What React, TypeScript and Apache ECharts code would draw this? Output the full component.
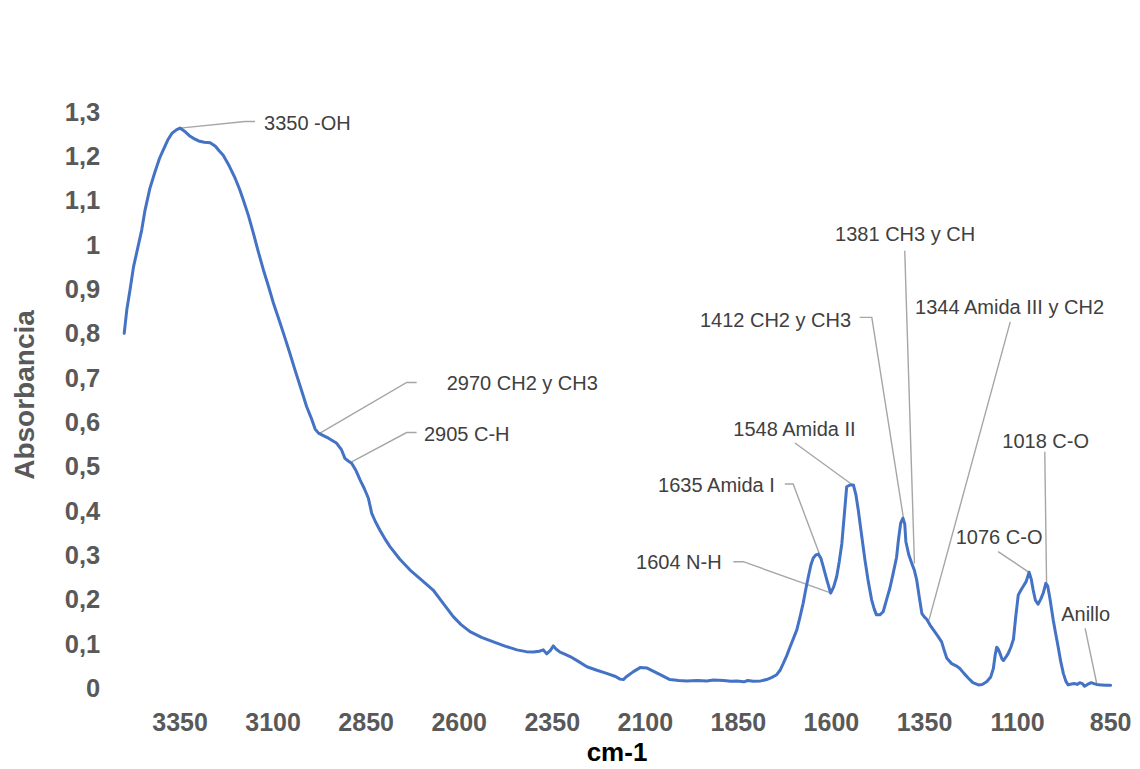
import React, { useEffect, useRef } from "react";
import * as echarts from "echarts";

// ---- Spectrum data (wavenumber cm-1, absorbance) ----
const wavenumbers: number[] = [
  3500, 3493, 3484, 3475, 3463, 3453, 3444, 3431, 3417, 3405,
  3395, 3383, 3372, 3360, 3350, 3338, 3325, 3314, 3300, 3285,
  3269, 3255, 3245, 3234, 3218, 3202, 3190, 3180, 3166, 3153,
  3140, 3126, 3112, 3099, 3085, 3072, 3056, 3041, 3025, 3010,
  2998, 2987, 2978, 2969, 2950, 2929, 2916, 2907, 2898, 2889,
  2877, 2866, 2855, 2844, 2835, 2825, 2813, 2800, 2786, 2760,
  2732, 2700, 2670, 2643, 2616, 2595, 2571, 2540, 2508, 2475,
  2445, 2420, 2401, 2385, 2374, 2365, 2355, 2347, 2340, 2329,
  2315, 2302, 2280, 2257, 2230, 2204, 2180, 2168, 2159, 2150,
  2132, 2114, 2095, 2079, 2060, 2034, 2010, 1989, 1960, 1935,
  1917, 1890, 1870, 1854, 1835, 1825, 1810, 1790, 1774, 1760,
  1747, 1738, 1729, 1720, 1711, 1702, 1693, 1685, 1676, 1669,
  1662, 1655, 1649, 1642, 1635, 1628, 1622, 1612, 1602, 1594,
  1586, 1579, 1572, 1565, 1559, 1550, 1541, 1534, 1528, 1519,
  1510, 1501, 1492, 1485, 1479, 1470, 1461, 1452, 1443, 1434,
  1425, 1420, 1414, 1408, 1403, 1400, 1392, 1384, 1377, 1371,
  1364, 1357, 1350, 1344, 1335, 1326, 1315, 1304, 1297, 1290,
  1277, 1265, 1255, 1244, 1232, 1220, 1205, 1195, 1183, 1172,
  1165, 1160, 1156, 1152, 1147, 1142, 1138, 1131, 1125, 1118,
  1111, 1105, 1098, 1090, 1085, 1077, 1069, 1063, 1058, 1052,
  1045, 1038, 1031, 1024, 1019, 1013, 1004, 997, 991, 984,
  977, 970, 964, 955, 946, 940, 933, 926, 920, 912,
  902, 895, 888, 875, 862, 850,
];

const absorbance: number[] = [
  0.800, 0.853, 0.900, 0.950, 0.995, 1.033, 1.078, 1.127, 1.165, 1.195,
  1.214, 1.236, 1.251, 1.259, 1.263, 1.256, 1.246, 1.240, 1.234, 1.231,
  1.230, 1.222, 1.212, 1.202, 1.178, 1.150, 1.125, 1.101, 1.065, 1.026,
  0.985, 0.943, 0.905, 0.868, 0.833, 0.800, 0.758, 0.717, 0.675, 0.635,
  0.610, 0.584, 0.575, 0.571, 0.563, 0.552, 0.537, 0.518, 0.512, 0.507,
  0.490, 0.469, 0.450, 0.428, 0.394, 0.375, 0.356, 0.337, 0.319, 0.291,
  0.266, 0.243, 0.221, 0.191, 0.161, 0.143, 0.127, 0.114, 0.104, 0.094,
  0.086, 0.082, 0.081, 0.083, 0.086, 0.077, 0.085, 0.095, 0.088, 0.081,
  0.076, 0.071, 0.060, 0.048, 0.040, 0.033, 0.026, 0.020, 0.019, 0.026,
  0.037, 0.046, 0.045, 0.038, 0.030, 0.019, 0.017, 0.016, 0.017, 0.016,
  0.018, 0.017, 0.015, 0.016, 0.014, 0.017, 0.015, 0.016, 0.019, 0.024,
  0.030, 0.040, 0.056, 0.073, 0.093, 0.112, 0.131, 0.158, 0.191, 0.222,
  0.251, 0.278, 0.293, 0.300, 0.302, 0.292, 0.274, 0.243, 0.214, 0.228,
  0.251, 0.285, 0.326, 0.395, 0.454, 0.458, 0.458, 0.435, 0.402, 0.345,
  0.289, 0.240, 0.199, 0.178, 0.165, 0.165, 0.172, 0.199, 0.225, 0.259,
  0.295, 0.334, 0.372, 0.383, 0.370, 0.330, 0.300, 0.281, 0.265, 0.244,
  0.205, 0.168, 0.160, 0.155, 0.142, 0.131, 0.118, 0.104, 0.085, 0.067,
  0.055, 0.050, 0.044, 0.033, 0.022, 0.012, 0.007, 0.008, 0.014, 0.025,
  0.044, 0.075, 0.092, 0.088, 0.078, 0.066, 0.062, 0.070, 0.078, 0.092,
  0.110, 0.160, 0.210, 0.222, 0.229, 0.240, 0.261, 0.245, 0.221, 0.198,
  0.189, 0.200, 0.214, 0.236, 0.230, 0.202, 0.153, 0.120, 0.093, 0.060,
  0.033, 0.015, 0.007, 0.009, 0.010, 0.008, 0.012, 0.010, 0.004, 0.008,
  0.012, 0.010, 0.008, 0.007, 0.006, 0.006,
];

// ---- Axis tick labels ----
const xTickLabels: number[] = [3350, 3100, 2850, 2600, 2350, 2100, 1850, 1600, 1350, 1100, 850];
const xTitle = "cm-1";
const yTitle = "Absorbancia";

// ---- Band annotations ----
const peakLabels: string[] = [
  "3350 -OH",
  "2970 CH2 y CH3",
  "2905 C-H",
  "1635 Amida I",
  "1604 N-H",
  "1548 Amida II",
  "1412 CH2 y CH3",
  "1381 CH3 y CH",
  "1344 Amida III y CH2",
  "1076 C-O",
  "1018 C-O",
  "Anillo",
];
const peakWavenumbers: number[] = [3350, 2974, 2889, 1633, 1604, 1543, 1405, 1377, 1338, 1069, 1022, 887];
const peakAbsorbance: number[] = [1.263, 0.575, 0.51, 0.304, 0.215, 0.458, 0.375, 0.281, 0.153, 0.261, 0.236, 0.009];

// Label placement (pixel offsets from the anchor point), kept separate from data
type Placement = { dx: number; dy: number; align: "left" | "right" | "center"; path: number[][] };
const placements: Placement[] = [
  { dx: 84, dy: -5, align: "left", path: [[65, -6.6], [75, -6.6]] },
  { dx: 126.7, dy: -50, align: "left", path: [[86.7, -50.6], [96.7, -50.6]] },
  { dx: 72.3, dy: -28.4, align: "left", path: [[55, -29.4], [65, -29.4]] },
  { dx: -44.3, dy: -68.3, align: "right", path: [[-26, -69.3], [-34.3, -69.3]] },
  { dx: -108.3, dy: -30.4, align: "right", path: [[-86.7, -31], [-96.7, -31]] },
  { dx: -58.2, dy: -55.7, align: "center", path: [[-57.7, -42]] },
  { dx: -52.9, dy: -201.7, align: "right", path: [[-32.2, -204.4], [-44.3, -204.4]] },
  { dx: -9.3, dy: -329, align: "center", path: [[-9.7, -312.6]] },
  { dx: 80.6, dy: -313.3, align: "center", path: [[81.3, -298.3]] },
  { dx: -30, dy: -35, align: "center", path: [[-31, -20.6]] },
  { dx: -0.9, dy: -142.6, align: "center", path: [[-1.8, -131.6]] },
  { dx: -11.2, dy: -70, align: "center", path: [[-11.7, -55.7]] },
];

const FONT = '"Liberation Sans", Arial, Helvetica, sans-serif';

export default function App() {
  const ref = useRef<HTMLDivElement>(null);

  useEffect(() => {
    if (!ref.current) return;
    const chart = echarts.init(ref.current, null, { renderer: "svg" });
    const n = Math.min(wavenumbers.length, absorbance.length);
    const data: number[][] = [];
    for (let i = 0; i < n; i++) data.push([wavenumbers[i], absorbance[i]]);

    chart.setOption({
      animation: false,
      backgroundColor: "#ffffff",
      grid: { left: 124.2, right: 29.4, top: 111.7, bottom: 81, containLabel: false },
      xAxis: {
        type: "value",
        inverse: true,
        min: 850,
        max: 3500,
        interval: 250,
        axisLine: { show: false },
        axisTick: { show: false },
        splitLine: { show: false },
        axisLabel: {
          margin: 21,
          color: "#595959",
          fontWeight: "bold",
          fontSize: 25,
          fontFamily: FONT,
          formatter: (v: number) => (xTickLabels.indexOf(Math.round(v)) >= 0 ? String(Math.round(v)) : ""),
        },
      },
      yAxis: {
        type: "value",
        min: 0,
        max: 1.3,
        interval: 0.1,
        axisLine: { show: false },
        axisTick: { show: false },
        splitLine: { show: false },
        axisLabel: {
          margin: 24,
          color: "#595959",
          fontWeight: "bold",
          fontSize: 25.5,
          fontFamily: FONT,
          formatter: (v: number) => String(Math.round(v * 10) / 10).replace(".", ","),
        },
      },
      series: [
        {
          type: "line",
          data,
          showSymbol: false,
          symbol: "none",
          smooth: false,
          clip: false,
          lineStyle: { color: "#4472C4", width: 3, join: "round", cap: "round" },
          z: 3,
        },
      ],
    });

    const graphics: any[] = [];
    const m = Math.min(peakLabels.length, peakWavenumbers.length, peakAbsorbance.length, placements.length);
    for (let i = 0; i < m; i++) {
      const p = chart.convertToPixel({ gridIndex: 0 } as any, [peakWavenumbers[i], peakAbsorbance[i]]) as number[];
      const pl = placements[i];
      const pts = [[p[0], p[1]], ...pl.path.map(([dx, dy]) => [p[0] + dx, p[1] + dy])];
      graphics.push({
        type: "polyline",
        silent: true,
        z: 2,
        shape: { points: pts },
        style: { stroke: "#a6a6a6", lineWidth: 1.4, fill: null },
      });
      graphics.push({
        type: "text",
        silent: true,
        z: 4,
        x: p[0] + pl.dx,
        y: p[1] + pl.dy,
        style: {
          text: peakLabels[i],
          fill: "#404040",
          fontSize: 20,
          fontFamily: FONT,
          align: pl.align,
          verticalAlign: "middle",
        },
      });
    }
    // axis titles
    graphics.push({
      type: "text",
      silent: true,
      x: 24,
      y: 395,
      rotation: Math.PI / 2,
      style: {
        text: yTitle,
        fill: "#595959",
        fontSize: 28,
        fontWeight: "bold",
        fontFamily: FONT,
        align: "center",
        verticalAlign: "middle",
      },
    });
    graphics.push({
      type: "text",
      silent: true,
      x: 617,
      y: 752,
      style: {
        text: xTitle,
        fill: "#000000",
        fontSize: 26,
        fontWeight: "bold",
        fontFamily: FONT,
        align: "center",
        verticalAlign: "middle",
      },
    });

    chart.setOption({ graphic: graphics });

    return () => {
      chart.dispose();
    };
  }, []);

  return (
    <div
      ref={ref}
      style={{ position: "fixed", left: 0, top: 0, width: 1140, height: 769, background: "#fff" }}
    />
  );
}
